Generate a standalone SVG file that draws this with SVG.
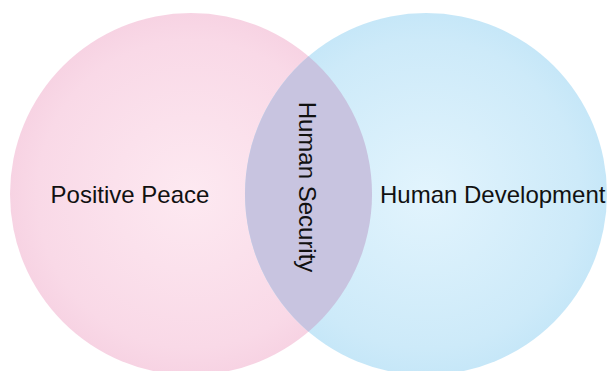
<svg xmlns="http://www.w3.org/2000/svg" width="607" height="371" viewBox="0 0 607 371">
<defs>
<radialGradient id="gPink" cx="0.5" cy="0.5" r="0.5">
<stop offset="0" stop-color="#fde9f1"/>
<stop offset="0.85" stop-color="#f9d9e7"/>
<stop offset="1" stop-color="#f7d3e3"/>
</radialGradient>
<radialGradient id="gBlue" cx="0.5" cy="0.5" r="0.5">
<stop offset="0" stop-color="#e2f4fd"/>
<stop offset="0.85" stop-color="#cdeaf9"/>
<stop offset="1" stop-color="#c6e7f8"/>
</radialGradient>
<style>
.lbl{font-family:"Liberation Sans",Arial,sans-serif;font-size:24px;fill:#111;}
</style>
</defs>
<rect width="607" height="371" fill="#ffffff"/>
<g id="positive-peace">
<circle cx="191" cy="194" r="181" fill="url(#gPink)"/>
<text class="lbl" x="130" y="203" text-anchor="middle">Positive Peace</text>
</g>
<g id="human-development">
<circle cx="426" cy="194" r="181" fill="url(#gBlue)"/>
<text class="lbl" x="380" y="203">Human Development</text>
</g>
<g id="human-security">
<path d="M308.5,56.3 A181,181 0 0,0 308.5,331.7 A181,181 0 0,0 308.5,56.3 Z" fill="#c8c4e0"/>
<text class="lbl" transform="translate(298.5,187) rotate(90)" x="0" y="0" text-anchor="middle">Human Security</text>
</g>
<g id="connectors"/>
</svg>
